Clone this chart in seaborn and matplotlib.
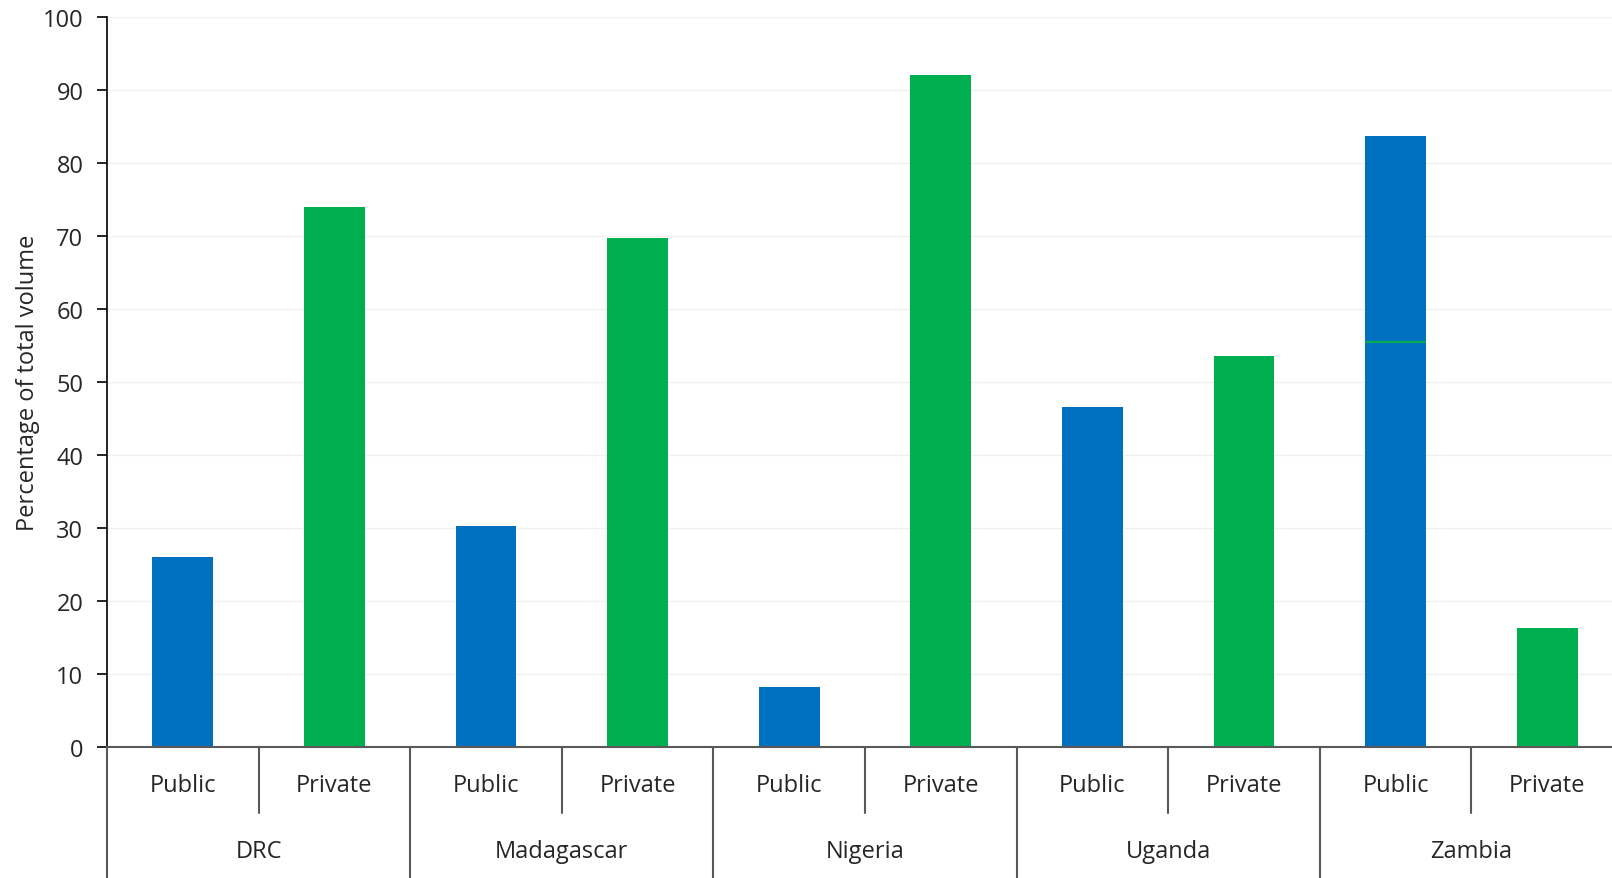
import pandas as pd
import matplotlib
matplotlib.use('Agg')
import matplotlib.pyplot as plt
import seaborn as sns

# Data
countries = ['DRC', 'Madagascar', 'Nigeria', 'Uganda', 'Zambia']
sectors = ['Public', 'Private']
public_share = [26.0, 30.2, 8.2, 46.5, 83.7]
private_share = [74.0, 69.7, 92.0, 53.5, 16.3]
zambia_public_split = 55.4  # thin green line inside the Zambia public bar
y_ticks = [0, 10, 20, 30, 40, 50, 60, 70, 80, 90, 100]

colors = {'Public': '#0070C0', 'Private': '#00B050'}

rows = []
for c, pub, priv in zip(countries, public_share, private_share):
    rows.append({'country': c, 'sector': 'Public', 'slot': c + ' Public', 'value': pub})
    rows.append({'country': c, 'sector': 'Private', 'slot': c + ' Private', 'value': priv})
df = pd.DataFrame(rows)
slots = list(df['slot'])

sns.set_style('white')
plt.rcParams['font.family'] = ['Open Sans', 'DejaVu Sans']
text_color = '#262626'
fs = 17

fig = plt.figure(figsize=(16.12, 8.79), dpi=100)
ax = fig.add_axes([107 / 1612, 131.3 / 879, 1516 / 1612, 730 / 879])

sns.barplot(data=df, x='slot', y='value', hue='sector', order=slots,
            palette=colors, width=0.4, dodge=False, legend=False, ax=ax,
            saturation=1, linewidth=0)

# thin green line across the Zambia public bar
zam_idx = slots.index('Zambia Public')
ax.hlines(zambia_public_split, zam_idx - 0.2, zam_idx + 0.2, color=colors['Private'], lw=1.5, zorder=3)

ax.set_ylim(0, 100)
ax.set_xlim(-0.5, len(slots) - 0.5)
ax.set_yticks(y_ticks)
ax.set_yticklabels([str(t) for t in y_ticks], fontsize=fs, color=text_color)
ax.tick_params(axis='y', direction='out', length=7, width=1.2, color='black', pad=10, left=True)
ax.set_xticks([])
ax.set_xlabel('')
ax.set_ylabel('Percentage of total volume', fontsize=fs, color=text_color, labelpad=2)

ax.grid(axis='y', color='#f0f0f0', lw=1)
ax.set_axisbelow(True)
for side in ['top', 'right']:
    ax.spines[side].set_visible(False)
ax.spines['left'].set_color('black')
ax.spines['left'].set_linewidth(1.2)
ax.spines['bottom'].set_color('#595959')
ax.spines['bottom'].set_linewidth(1.5)

# hierarchical category axis
trans = ax.get_xaxis_transform()
for i, s in enumerate(slots):
    ax.text(i, -0.052, df['sector'].iloc[i], transform=trans, ha='center', va='center',
            fontsize=fs, color=text_color)
for g, c in enumerate(countries):
    ax.text(2 * g + 0.5, -0.143, c, transform=trans, ha='center', va='center',
            fontsize=fs, color=text_color)
    # inner separator between Public and Private
    ax.plot([2 * g + 0.5, 2 * g + 0.5], [0, -0.091], transform=trans, color='#595959',
            lw=1.5, clip_on=False)
    # outer separator between countries
    ax.plot([2 * g - 0.5, 2 * g - 0.5], [0, -0.2], transform=trans, color='#595959',
            lw=1.5, clip_on=False)

fig.savefig('out.png', dpi=100)
plt.close(fig)
